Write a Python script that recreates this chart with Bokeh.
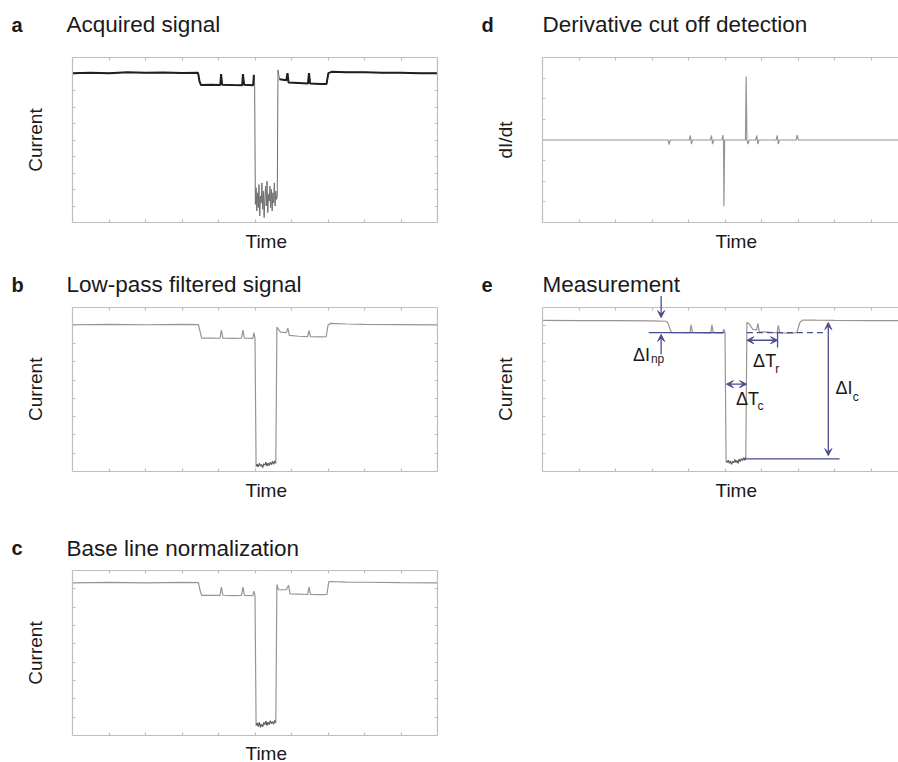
import math
from bokeh.plotting import figure
from bokeh.layouts import column, row
from bokeh.models import (Range1d, LinearAxis, FixedTicker, CustomJSTickFormatter,
                          Label, Arrow, VeeHead)
from bokeh.embed import file_html
from bokeh.resources import INLINE

# ---------------- data (x in time-tick divisions, y in current-tick divisions) ----------------
# a: acquired signal (10 y-divisions)
a_left_x = [0.0, 0.5, 1.0, 1.5, 2.0, 2.5, 3.0, 3.44]
a_left_y = [9.05, 9.08, 9.05, 9.10, 9.07, 9.09, 9.06, 9.07]
a_mid_x = [3.48, 3.52, 3.8, 4.05, 4.07, 4.10, 4.4, 4.65, 4.67, 4.70, 4.95, 4.97, 4.99]
a_mid_y = [8.55, 8.33, 8.35, 8.33, 9.0, 8.35, 8.33, 8.32, 9.0, 8.35, 8.32, 8.95, 8.4]
a_noise_x = [5.01, 5.03, 5.05, 5.07, 5.09, 5.11, 5.13, 5.15, 5.17, 5.19, 5.21, 5.23, 5.25, 5.27, 5.29,
             5.31, 5.33, 5.35, 5.37, 5.39, 5.41, 5.43, 5.45, 5.47, 5.49, 5.51, 5.53, 5.55, 5.57, 5.59]
a_noise_y = [1.1, 2.1, 0.7, 1.8, 0.9, 2.3, 0.4, 1.6, 1.2, 2.4, 0.8, 1.9, 0.3, 1.5, 2.2,
             1.0, 2.5, 0.6, 1.7, 1.3, 2.2, 0.9, 2.0, 0.7, 1.8, 1.2, 2.4, 1.0, 1.9, 1.4]
a_right_x = [5.61, 5.63, 5.67, 5.86, 5.89, 5.92, 6.2, 6.45, 6.48, 6.51, 6.8, 6.96, 7.01, 7.1,
             7.5, 8.0, 8.5, 9.0, 9.5, 10.0]
a_right_y = [1.6, 9.25, 8.68, 8.62, 9.05, 8.48, 8.45, 8.42, 9.05, 8.42, 8.40, 8.40, 9.05, 9.13,
             9.11, 9.10, 9.08, 9.07, 9.05, 9.05]

# b: low-pass filtered signal (9 y-divisions)
b_left_x = [0.0, 1.0, 2.0, 3.0, 3.45]
b_left_y = [8.03, 8.05, 8.03, 8.05, 8.04]
b_mid_x = [3.49, 3.54, 3.8, 4.04, 4.08, 4.12, 4.4, 4.63, 4.67, 4.71, 4.94, 4.97, 5.0]
b_mid_y = [7.7, 7.3, 7.3, 7.29, 7.73, 7.3, 7.28, 7.3, 7.73, 7.3, 7.28, 7.6, 7.3]
b_noise_x = [5.03, 5.06, 5.09, 5.12, 5.15, 5.18, 5.21, 5.24, 5.27, 5.30, 5.33, 5.36, 5.39, 5.42,
             5.45, 5.48, 5.51, 5.54, 5.57]
b_noise_y = [0.28, 0.40, 0.25, 0.45, 0.30, 0.38, 0.22, 0.42, 0.35, 0.50, 0.30, 0.46, 0.33, 0.50,
             0.38, 0.55, 0.40, 0.58, 0.45]
b_right_x = [5.6, 5.64, 5.7, 5.86, 5.9, 5.94, 6.2, 6.44, 6.48, 6.52, 6.8, 6.95, 7.0, 7.06, 7.5,
             8.0, 9.0, 10.0]
b_right_y = [7.9, 7.78, 7.62, 7.6, 7.84, 7.45, 7.4, 7.38, 7.7, 7.38, 7.37, 7.38, 8.0, 8.1, 8.07,
             8.05, 8.04, 8.02]

# c: base line normalization (9 y-divisions)
c_left_x = [0.0, 1.0, 2.0, 3.0, 3.45]
c_left_y = [8.32, 8.35, 8.33, 8.35, 8.34]
c_mid_x = [3.49, 3.54, 3.8, 4.04, 4.08, 4.12, 4.4, 4.63, 4.67, 4.71, 4.94, 4.97, 5.0]
c_mid_y = [7.95, 7.64, 7.65, 7.64, 8.09, 7.65, 7.63, 7.64, 8.09, 7.64, 7.63, 7.87, 7.64]
c_noise_x = [5.03, 5.06, 5.09, 5.12, 5.15, 5.18, 5.21, 5.24, 5.27, 5.30, 5.33, 5.36, 5.39, 5.42,
             5.45, 5.48, 5.51, 5.54, 5.57]
c_noise_y = [0.55, 0.68, 0.50, 0.72, 0.45, 0.62, 0.48, 0.70, 0.60, 0.78, 0.55, 0.72, 0.60, 0.80,
             0.65, 0.75, 0.62, 0.82, 0.70]
c_right_x = [5.6, 5.64, 5.7, 5.86, 5.92, 5.96, 6.2, 6.44, 6.48, 6.52, 6.8, 6.97, 7.02, 7.08, 7.5,
             8.0, 9.0, 10.0]
c_right_y = [8.24, 7.96, 7.95, 7.95, 8.2, 7.73, 7.71, 7.69, 8.09, 7.69, 7.68, 7.69, 8.38, 8.4, 8.37,
             8.36, 8.34, 8.33]

# d: derivative (8 y-divisions, centred on 0)
d_x = [0.0, 3.44, 3.47, 3.5, 4.02, 4.05, 4.08, 4.11, 4.6, 4.63, 4.66, 4.69, 4.92, 4.94, 4.96, 4.97,
       4.99, 5.56, 5.58, 5.6, 5.63, 5.66, 5.84, 5.87, 5.9, 5.93, 6.4, 6.43, 6.46, 6.49, 6.95, 6.98,
       7.01, 9.75]
d_y = [0.0, 0.0, -0.22, 0.0, 0.0, 0.22, -0.2, 0.0, 0.0, 0.22, -0.2, 0.0, 0.0, 0.24, 0.0, -3.21,
       0.0, 0.0, 3.08, 0.0, -0.2, 0.0, 0.0, 0.22, -0.2, 0.0, 0.0, 0.22, -0.2, 0.0, 0.0, 0.24,
       0.0, 0.0]

# e: measurement (9 y-divisions)
e_left_x = [0.0, 1.0, 2.0, 3.0, 3.38]
e_left_y = [8.27, 8.26, 8.25, 8.24, 8.22]
e_mid_x = [3.44, 3.5, 3.53, 3.8, 4.04, 4.07, 4.11, 4.4, 4.61, 4.64, 4.68, 4.93, 4.97, 5.0]
e_mid_y = [8.12, 7.75, 7.6, 7.6, 7.58, 8.02, 7.6, 7.58, 7.57, 8.02, 7.58, 7.57, 7.78, 7.6]
e_noise_x = [5.03, 5.06, 5.09, 5.12, 5.15, 5.18, 5.21, 5.24, 5.27, 5.30, 5.33, 5.36, 5.39, 5.42,
             5.45, 5.48, 5.51, 5.54, 5.57]
e_noise_y = [0.55, 0.50, 0.62, 0.45, 0.58, 0.40, 0.55, 0.48, 0.65, 0.50, 0.60, 0.45, 0.68, 0.55,
             0.70, 0.60, 0.75, 0.62, 0.78]
e_right_x = [5.6, 5.63, 5.67, 5.76, 5.87, 5.9, 5.94, 6.2, 6.43, 6.46, 6.5, 6.8, 6.97, 7.05, 7.13,
             7.5, 8.0, 9.0, 9.75]
e_right_y = [8.15, 8.12, 8.06, 7.78, 7.75, 8.1, 7.64, 7.62, 7.58, 8.0, 7.58, 7.57, 7.6, 8.15, 8.29,
             8.28, 8.27, 8.26, 8.26]

# measurement annotations (panel e)
np_level = 7.6          # open-pore reference level
c_level = 0.69          # blockade level
np_x = 3.25
tc_span = [5.04, 5.59]
tr_span = [5.6, 6.44]
ic_x = 7.83

# ---------------- style ----------------
FONT = "Liberation Sans"
FRAME = "#c3bcb9"
TRACE = "#9b9391"
NOISE = "#5e5858"
DARK = "#1f1f1f"
NAVY = "#4a4d8e"
TXT = "#1a1a1a"
PPX = 36.5   # pixels per time division


class Panel:
    """A figure whose frame is the whole canvas; the visible box is drawn by fixed axes."""

    def __init__(self, w, h, box_left, box_top, box_bottom, xdata, ydata, right_axis=True,
                 xticks=(), yticks=()):
        self.xa, self.xb = xdata
        self.ya, self.yb = ydata
        ppy = (box_bottom - box_top) / (self.yb - self.ya)
        x_start = self.xa - box_left / PPX
        x_end = self.xa + (w - box_left) / PPX
        y_start = self.ya - (h - box_bottom) / ppy
        y_end = self.yb + box_top / ppy
        p = figure(width=w, height=h, x_range=Range1d(x_start, x_end),
                   y_range=Range1d(y_start, y_end),
                   output_backend="svg", toolbar_location=None, tools="",
                   x_axis_location=None, y_axis_location=None,
                   min_border_left=0, min_border_right=0, min_border_top=0, min_border_bottom=0)
        p.grid.visible = False
        p.outline_line_color = None
        p.background_fill_color = "white"
        p.border_fill_color = "white"
        self.p = p
        xb_vis = min(self.xb, x_end)
        self._axis("below", list(xticks), self.ya, (self.xa, xb_vis))
        self._axis("above", list(xticks), self.yb, (self.xa, xb_vis))
        self._axis("left", list(yticks), self.xa, (self.ya, self.yb))
        if right_axis:
            self._axis("right", list(yticks), self.xb, (self.ya, self.yb))

    def _axis(self, side, ticks, loc, bounds):
        ax = LinearAxis(ticker=FixedTicker(ticks=ticks),
                        formatter=CustomJSTickFormatter(code="return ''"),
                        fixed_location=loc, bounds=bounds,
                        major_tick_in=3, major_tick_out=0,
                        minor_tick_in=0, minor_tick_out=0,
                        axis_line_color=FRAME, axis_line_width=1.2,
                        major_tick_line_color=FRAME, major_tick_line_width=1.2,
                        major_label_standoff=0, major_label_text_font_size="1px")
        self.p.add_layout(ax, side)

    def txt(self, x, y, s, size, xo=0, yo=0, bold=False, align="left", base="middle",
            angle=0.0, color=TXT):
        self.p.add_layout(Label(x=x, y=y, x_offset=xo, y_offset=yo, text=s, text_font=FONT,
                                text_font_size=size,
                                text_font_style="bold" if bold else "normal",
                                text_align=align, text_baseline=base, angle=angle,
                                text_color=color))

    def texts(self, letter, title, ylabel, title_dy, title_dx, time_dy):
        ymid = (self.ya + self.yb) / 2
        self.txt(self.xa, self.yb, letter, "20px", xo=-61, yo=title_dy, bold=True)
        self.txt(self.xa, self.yb, title, "22.5px", xo=title_dx, yo=title_dy)
        self.txt(self.xa, ymid, ylabel, "19px", xo=-37, align="center", angle=math.pi / 2)
        self.txt(self.xa, self.ya, "Time", "19px", xo=173, yo=time_dy)


xt = [1, 2, 3, 4, 5, 6, 7, 8, 9]

# ---------------- panel a ----------------
A = Panel(470, 262, 72, 57, 222, (0, 10), (0, 10), xticks=xt, yticks=xt)
a_x = a_left_x + a_mid_x + a_noise_x + a_right_x
a_y = a_left_y + a_mid_y + a_noise_y + a_right_y
A.p.line(a_x, a_y, line_color="#6f6f6f", line_width=1)
A.p.line(a_left_x + a_mid_x[:-1], a_left_y + a_mid_y[:-1], line_color=DARK, line_width=2)
A.p.line(a_right_x[2:], a_right_y[2:], line_color=DARK, line_width=2)
A.texts("a", "Acquired signal", "Current", 33, -6, -18.5)

# ---------------- panel b ----------------
B = Panel(470, 250, 72, 44.5, 209, (0, 10), (0, 9), xticks=xt, yticks=xt[:-1])
B.p.line(b_left_x + b_mid_x + b_noise_x + b_right_x,
         b_left_y + b_mid_y + b_noise_y + b_right_y, line_color=TRACE, line_width=1.2)
B.p.line(b_noise_x, b_noise_y, line_color=NOISE, line_width=1)
B.texts("b", "Low-pass filtered signal", "Current", 22.3, -6, -19)

# ---------------- panel c ----------------
C = Panel(470, 250, 72, 58, 223, (0, 10), (0, 9), xticks=xt, yticks=xt[:-1])
C.p.line(c_left_x + c_mid_x + c_noise_x + c_right_x,
         c_left_y + c_mid_y + c_noise_y + c_right_y, line_color=TRACE, line_width=1.2)
C.p.line(c_noise_x, c_noise_y, line_color=NOISE, line_width=1)
C.texts("c", "Base line normalization", "Current", 22.5, -6, -17.5)

# ---------------- panel d ----------------
D = Panel(428, 262, 72, 57, 222, (0, 10), (-4, 4), right_axis=False,
          xticks=xt, yticks=[-3, -2, -1, 0, 1, 2, 3])
D.p.line(d_x, d_y, line_color=TRACE, line_width=1.2)
D.texts("d", "Derivative cut off detection", "dI/dt", 33, 0, -18.5)

# ---------------- panel e ----------------
E = Panel(428, 250, 72, 44.5, 209, (0, 10), (0, 9), right_axis=False,
          xticks=xt, yticks=xt[:-1])
pe = E.p
pe.line(e_left_x + e_mid_x + e_noise_x + e_right_x,
        e_left_y + e_mid_y + e_noise_y + e_right_y, line_color=TRACE, line_width=1.2)
pe.line(e_noise_x, e_noise_y, line_color=NOISE, line_width=1)

# annotation lines
pe.line([2.91, 4.98], [np_level, np_level], line_color=NAVY, line_width=1.3)
pe.line([tr_span[0], 7.7], [np_level, np_level], line_color=NAVY, line_width=1.3, line_dash="6 4")
pe.line([5.51, 8.14], [c_level, c_level], line_color=NAVY, line_width=1.3)
pe.line([tr_span[1], tr_span[1]], [6.78, np_level], line_color=NAVY, line_width=1.3)


def head():
    return VeeHead(size=7, fill_color=NAVY, line_color=NAVY, line_width=1)


def arrow(x0, y0, x1, y1, both=False):
    pe.add_layout(Arrow(start=head() if both else None, end=head(),
                        x_start=x0, y_start=y0, x_end=x1, y_end=y1,
                        line_color=NAVY, line_width=1.3))


arrow(np_x, 9.6, np_x, 8.42)
arrow(np_x, 6.42, np_x, 7.5)
arrow(tc_span[0], 4.78, tc_span[1], 4.78, both=True)
arrow(tr_span[0], 7.18, tr_span[1], 7.18, both=True)
arrow(ic_x, 8.15, ic_x, 0.87, both=True)

E.txt(2.48, 6.39, "ΔI", "18px")
E.txt(2.97, 6.18, "np", "12px")
E.txt(5.30, 3.99, "ΔT", "18px")
E.txt(5.89, 3.56, "c", "12px")
E.txt(5.77, 6.07, "ΔT", "18px")
E.txt(6.38, 5.63, "r", "12px")
E.txt(8.03, 4.59, "ΔI", "18px")
E.txt(8.50, 4.10, "c", "12px")

E.texts("e", "Measurement", "Current", 22.3, 0, -19)

layout = column(row(A.p, D.p), row(B.p, E.p), C.p)

with open("out.html", "w") as f:
    f.write(file_html(layout, INLINE, title="Signal processing"))
